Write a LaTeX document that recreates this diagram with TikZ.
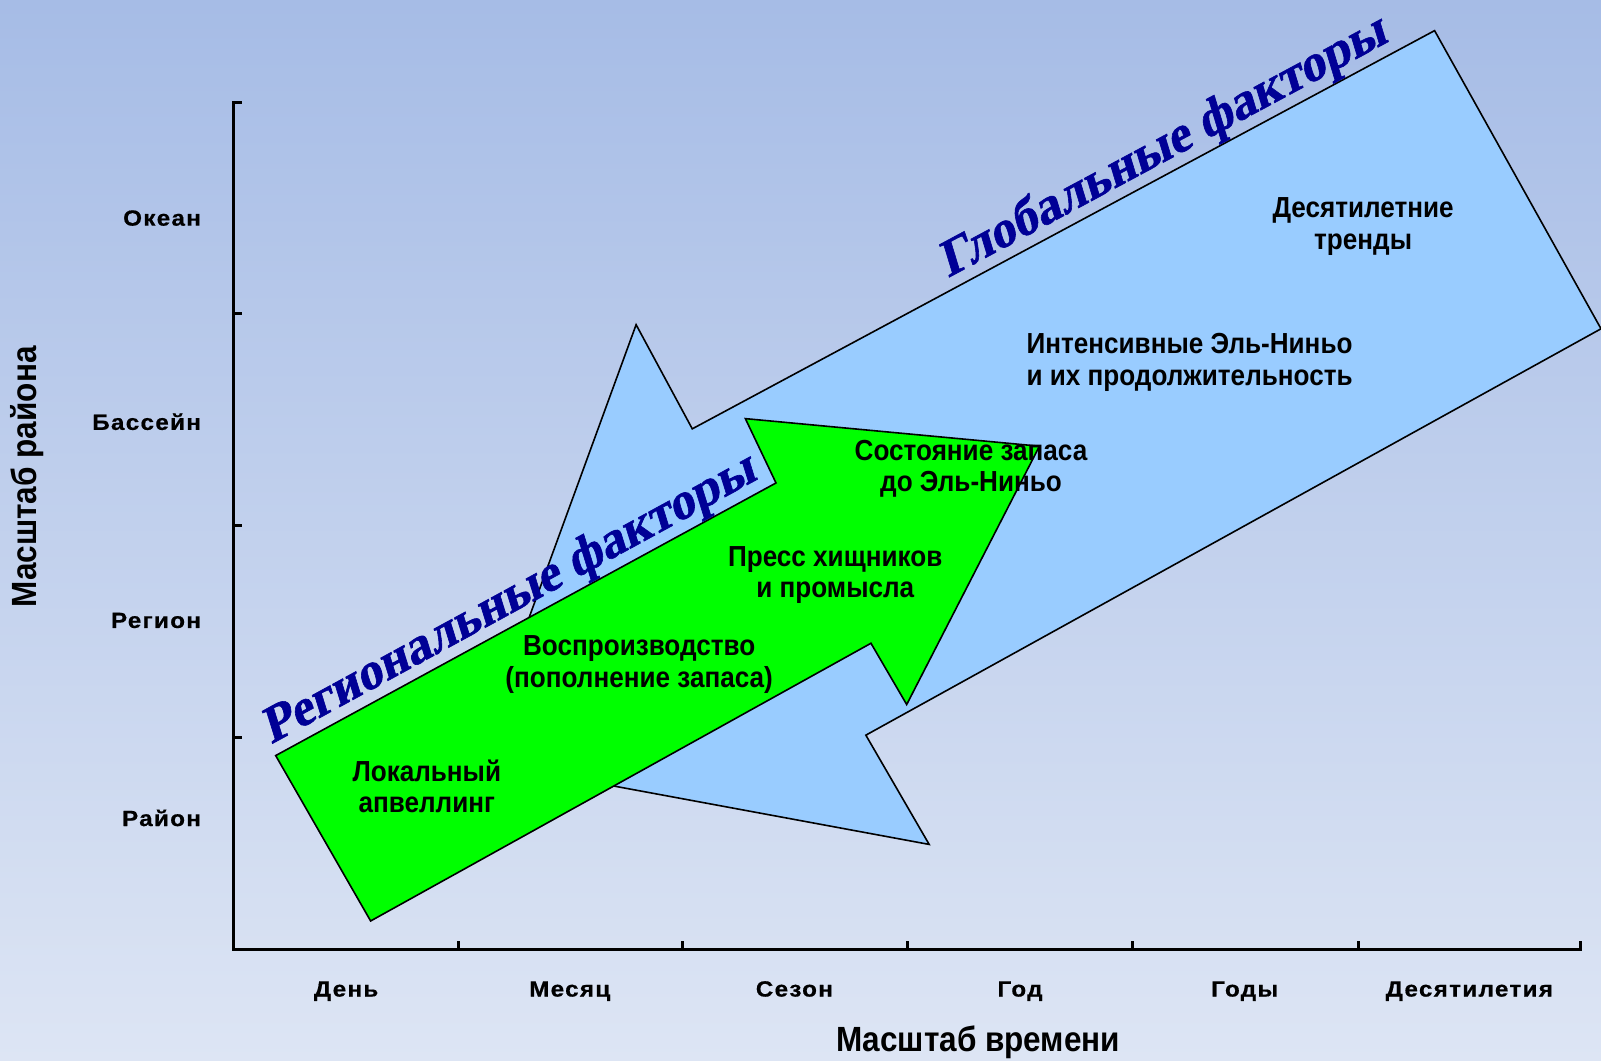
\documentclass[tikz,border=0pt]{standalone}
\usepackage{fontspec}
\setmainfont{Liberation Sans}
\newfontfamily\narrowsans[FakeStretch=0.9]{Liberation Sans}
\newfontfamily\widesans[FakeStretch=1.1, LetterSpace=6, BoldFeatures={FakeBold=0.6}]{Liberation Sans}
\newfontfamily\factorserif[BoldFeatures={FakeSlant=0.2, FakeBold=1.2}]{Liberation Serif}
\usepackage{tikz}
\usetikzlibrary{positioning,calc}
\definecolor{bgtop}{RGB}{166,188,230}
\definecolor{bgbottom}{RGB}{221,229,244}
\definecolor{globfill}{RGB}{153,204,255}
\definecolor{regfill}{RGB}{0,255,0}
\definecolor{factorblue}{RGB}{0,0,150}
\tikzset{
  bigarrow/.style={draw=black, line width=1.6pt, line join=miter},
  axisline/.style={line width=3pt, line cap=rect},
  scalelbl/.style={font=\widesans\bfseries\fontsize{22}{26}\selectfont, inner sep=0pt},
  effect/.style={font=\narrowsans\bfseries\fontsize{29}{31.5}\selectfont, align=center, inner sep=0pt},
  axisname/.style={font=\narrowsans\bfseries\fontsize{35}{40}\selectfont, inner sep=0pt},
  factor/.style={font=\factorserif\bfseries\fontsize{51}{56}\selectfont,
    text=factorblue, sloped, inner sep=0pt},
}

\begin{document}
\begin{tikzpicture}[x=1.021pt, y=-1.021pt]
  \useasboundingbox (0,0) rectangle (1568,1039);
  \fill[top color=bgtop, bottom color=bgbottom] (0,0) rectangle (1568,1039);

  % axes with inward ticks
  \draw[axisline] (229,100) -- (229,930) -- (1548,930);
  \foreach \y in {100,307,515,722}
    \draw[axisline] (229,\y) -- ++(7,0);
  \foreach \x in {449,668,889,1109,1330,1548}
    \draw[axisline] (\x,930) -- ++(0,-7);

  % space scale
  \foreach \name/\y/\txt in {ocean/221/Океан, basin/421/Бассейн, region/615/Регион, district/809/Район}
    \node[scalelbl, anchor=base east] (y-\name) at (197,\y) {\txt};
  % time scale
  \foreach \name/\x/\txt in {day/339/День, month/558/Месяц, season/778/Сезон, year/999/Год, years/1219/Годы, decades/1439/Десятилетия}
    \node[scalelbl, anchor=base] (x-\name) at (\x,976) {\txt};

  \node[axisname] (timeaxis) at (958,1021) {Масштаб времени};
  \node[axisname, rotate=90] (spaceaxis) at (27,467) {Масштаб района};

  % global factors: wide arrow pointing down-left
  \coordinate (gl1) at (1405,30);
  \coordinate (gl2) at (1568,322);
  \coordinate (gl3) at (848,720);
  \coordinate (gl4) at (910,827);
  \coordinate (gl5) at (467,745);
  \coordinate (gl6) at (623,318);
  \coordinate (gl7) at (678,420);
  \filldraw[bigarrow, fill=globfill] (gl1) -- (gl2) -- (gl3) -- (gl4) -- (gl5) -- (gl6) -- (gl7) -- cycle;

  % regional factors: arrow pointing up-right
  \coordinate (rg1) at (270,740);
  \coordinate (rg2) at (363,902);
  \coordinate (rg3) at (853,630);
  \coordinate (rg4) at (888,690);
  \coordinate (rg5) at (1018,437);
  \coordinate (rg6) at (730,410);
  \coordinate (rg7) at (760,473);
  \filldraw[bigarrow, fill=regfill] (rg1) -- (rg2) -- (rg3) -- (rg4) -- (rg5) -- (rg6) -- (rg7) -- cycle;

  \path (gl7) -- (gl1) node[factor, pos=.65, above=1pt] (globtitle) {Глобальные факторы};
  \path (rg1) -- (rg7) node[factor, pos=.49, above=1pt] (regtitle) {Региональные факторы};

  \node[effect] (trends) at (1335,222) {Десятилетние\\тренды};
  \node[effect] (elnino) at (1165,355) {Интенсивные Эль-Ниньо\\и их продолжительность};
  \node[effect] (stock) at (951,459) {Состояние запаса\\до Эль-Ниньо};
  \node[effect] (press) at (818,563) {Пресс хищников\\и промысла};
  \node[effect] (recruit) at (626,651) {Воспроизводство\\(пополнение запаса)};
  \node[effect] (upwell) at (418,770) {Локальный\\апвеллинг};
\end{tikzpicture}
\end{document}
